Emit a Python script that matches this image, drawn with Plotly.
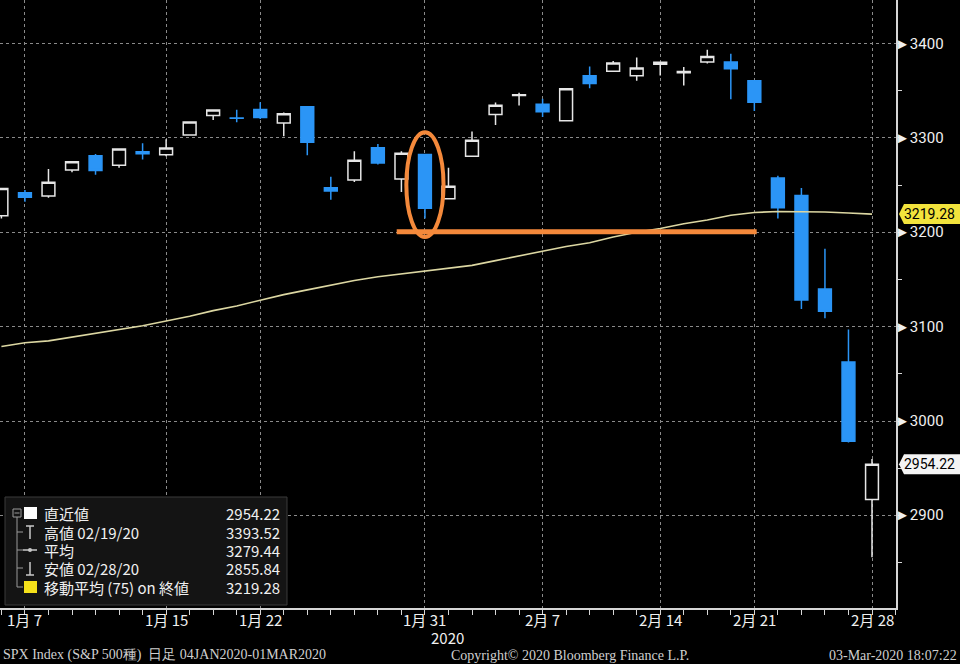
import plotly.graph_objects as go

# ---------------- data ----------------
dates = ["2020-01-06", "2020-01-07", "2020-01-08", "2020-01-09", "2020-01-10",
         "2020-01-13", "2020-01-14", "2020-01-15", "2020-01-16", "2020-01-17",
         "2020-01-21", "2020-01-22", "2020-01-23", "2020-01-24",
         "2020-01-27", "2020-01-28", "2020-01-29", "2020-01-30", "2020-01-31",
         "2020-02-03", "2020-02-04", "2020-02-05", "2020-02-06", "2020-02-07",
         "2020-02-10", "2020-02-11", "2020-02-12", "2020-02-13", "2020-02-14",
         "2020-02-18", "2020-02-19", "2020-02-20", "2020-02-21",
         "2020-02-24", "2020-02-25", "2020-02-26", "2020-02-27", "2020-02-28"]
opens = [3217.55, 3241.86, 3238.59, 3266.03, 3281.21,
         3271.13, 3285.35, 3282.27, 3302.97, 3323.66,
         3321.03, 3330.02, 3315.77, 3333.10,
         3247.16, 3255.35, 3289.46, 3256.45, 3282.33,
         3235.66, 3280.61, 3324.91, 3344.92, 3335.54,
         3318.28, 3365.87, 3370.50, 3365.90, 3378.08,
         3369.04, 3380.39, 3380.45, 3360.50,
         3257.61, 3238.94, 3139.90, 3062.54, 2916.90]
highs = [3246.84, 3244.91, 3267.07, 3275.58, 3282.99,
         3288.13, 3294.25, 3298.66, 3317.11, 3329.88,
         3329.79, 3337.77, 3326.88, 3333.18,
         3258.85, 3285.78, 3293.47, 3285.91, 3282.33,
         3268.44, 3306.92, 3337.58, 3347.96, 3341.42,
         3352.26, 3375.63, 3381.47, 3385.09, 3380.69,
         3375.01, 3393.52, 3389.15, 3360.76,
         3259.81, 3246.99, 3182.51, 3097.07, 2959.72]
lows = [3214.64, 3232.43, 3236.67, 3263.67, 3260.86,
        3268.43, 3277.19, 3280.69, 3302.82, 3318.86,
        3316.61, 3320.04, 3301.87, 3281.53,
        3234.50, 3253.22, 3271.89, 3242.80, 3214.68,
        3235.66, 3280.61, 3313.75, 3334.39, 3322.12,
        3317.77, 3352.72, 3369.72, 3360.52, 3366.15,
        3355.61, 3378.83, 3341.02, 3328.45,
        3214.65, 3118.77, 3108.99, 2977.39, 2855.84]
closes = [3246.28, 3237.18, 3253.05, 3274.70, 3265.35,
          3288.13, 3283.15, 3289.29, 3316.81, 3329.62,
          3320.79, 3321.75, 3325.54, 3295.47,
          3243.63, 3276.24, 3273.40, 3283.66, 3225.52,
          3248.92, 3297.59, 3334.69, 3345.78, 3327.71,
          3352.09, 3357.75, 3379.45, 3373.94, 3380.16,
          3370.29, 3386.15, 3373.23, 3337.75,
          3225.89, 3128.21, 3116.39, 2978.76, 2954.22]
ma75 = [3079, 3083, 3085, 3089, 3093, 3097, 3101, 3106, 3111, 3117,
        3122, 3128, 3134, 3139, 3144, 3149, 3153, 3156, 3159, 3162,
        3165, 3170, 3175, 3180, 3185, 3189, 3195, 3200, 3204, 3209,
        3213, 3218, 3221, 3222, 3222, 3221.5, 3220.5, 3219.28]

tick_dates = ["2020-01-07", "2020-01-15", "2020-01-22", "2020-01-31",
              "2020-02-07", "2020-02-14", "2020-02-21", "2020-02-28"]
tick_labels = ["1月 7", "1月 15", "1月 22", "1月 31",
               "2月 7", "2月 14", "2月 21", "2月 28"]
y_ticks = [2900, 3000, 3100, 3200, 3300, 3400]

legend_labels = ["直近値", "高値 02/19/20", "平均", "安値 02/28/20", "移動平均 (75) on 終値"]
legend_values = ["2954.22", "3393.52", "3279.44", "2855.84", "3219.28"]

last_close = 2954.22
last_ma = 3219.28

# highlight annotation (orange): ellipse around 1月31 candle, support line
hl_date = "2020-01-31"
hl_ellipse_y = [3195, 3306]
hl_line_level = 3200.6
hl_line_span = [16.8, 32.1]

footer_left = "SPX Index (S&P 500種)  日足 04JAN2020-01MAR2020"
footer_mid = "Copyright© 2020 Bloomberg Finance L.P."
footer_right = "03-Mar-2020 18:07:22"

# ---------------- figure ----------------
x = list(range(len(dates)))
tickvals = [dates.index(d) for d in tick_dates]
X_RANGE = [-0.06, 38.02]

PLOT_W, PLOT_H = 896, 608


def px(xp):
    return xp / PLOT_W


def py(yp):
    return 1 - yp / PLOT_H


WHITE = "#e6e6e6"
BLUE = "#2b95f6"
ORANGE = "#f4893b"
CJK = "Noto Sans CJK JP"
TXT = "#f0f0f0"

fig = go.Figure()
fig.add_trace(go.Candlestick(
    x=x, open=opens, high=highs, low=lows, close=closes,
    increasing=dict(line=dict(color=WHITE, width=1.5), fillcolor="#000000"),
    decreasing=dict(line=dict(color=BLUE, width=1.5), fillcolor=BLUE),
    whiskerwidth=0, hoverinfo="skip", showlegend=False,
))
fig.add_trace(go.Scatter(
    x=x, y=ma75, mode="lines", line=dict(color="#dcd7a2", width=1.6),
    hoverinfo="skip", showlegend=False,
))

shapes = []
annotations = []

# orange highlight
hi = dates.index(hl_date)
shapes.append(dict(type="circle", xref="x", yref="y",
                   x0=hi - 0.79, x1=hi + 0.79, y0=hl_ellipse_y[0], y1=hl_ellipse_y[1],
                   line=dict(color=ORANGE, width=4)))
shapes.append(dict(type="line", xref="x", yref="y",
                   x0=hl_line_span[0], x1=hl_line_span[1], y0=hl_line_level, y1=hl_line_level,
                   line=dict(color=ORANGE, width=5)))

# y tick labels with pointer triangles (right of the axis)
for v in y_ticks:
    annotations.append(dict(xref="paper", yref="y", x=1, y=v, xshift=-3,
                            xanchor="left", yanchor="middle", showarrow=False,
                            text="►" + str(v), font=dict(family="Roboto", size=15, color=TXT)))

# price flags on right axis
for val, bg in [(last_ma, "#f2e33c"), (last_close, "#f4f4f4")]:
    shapes.append(dict(type="path", xref="paper", yref="y",
                       xsizemode="pixel", ysizemode="pixel", xanchor=1, yanchor=val,
                       path="M 3,0 L 8,-10 L 70,-10 L 70,10 L 8,10 Z",
                       fillcolor=bg, line=dict(width=0)))
    annotations.append(dict(xref="paper", yref="y", x=1, y=val, xshift=6,
                            xanchor="left", yanchor="middle", showarrow=False,
                            text=f"{val:.2f}", font=dict(family="Roboto", size=14, color="#000")))

# x tick labels as text under the axis
for tv, tl in zip(tickvals, tick_labels):
    annotations.append(dict(xref="x", yref="paper", x=tv, y=py(619),
                            xanchor="center", yanchor="middle", showarrow=False,
                            text=tl, font=dict(family=CJK, size=15, color=TXT)))

# legend box
shapes.append(dict(type="rect", xref="paper", yref="paper",
                   x0=px(5), x1=px(287), y0=py(605), y1=py(497),
                   fillcolor="#141414", line=dict(color="#3a3a3a", width=1)))
row_y = [513, 532, 550, 568, 587]
GRAY = "#9a9a9a"
shapes.append(dict(type="line", xref="paper", yref="paper",
                   x0=px(17), x1=px(17), y0=py(517), y1=py(587), line=dict(color=GRAY, width=1)))
shapes.append(dict(type="rect", xref="paper", yref="paper",
                   x0=px(13), x1=px(21), y0=py(517), y1=py(509), line=dict(color=GRAY, width=1)))
shapes.append(dict(type="line", xref="paper", yref="paper",
                   x0=px(14.5), x1=px(19.5), y0=py(513), y1=py(513), line=dict(color=GRAY, width=1)))
for ry in row_y[1:]:
    shapes.append(dict(type="line", xref="paper", yref="paper",
                       x0=px(17), x1=px(23), y0=py(ry), y1=py(ry), line=dict(color=GRAY, width=1)))
shapes.append(dict(type="rect", xref="paper", yref="paper",
                   x0=px(24), x1=px(37), y0=py(519), y1=py(507), fillcolor="#ffffff", line=dict(width=0)))
shapes.append(dict(type="rect", xref="paper", yref="paper",
                   x0=px(24), x1=px(37), y0=py(593), y1=py(581), fillcolor="#f5e11a", line=dict(width=0)))
ICON = "#c8c8c8"
shapes.append(dict(type="line", xref="paper", yref="paper",
                   x0=px(26), x1=px(34), y0=py(526), y1=py(526), line=dict(color=ICON, width=1.5)))
shapes.append(dict(type="line", xref="paper", yref="paper",
                   x0=px(30), x1=px(30), y0=py(526), y1=py(539), line=dict(color=ICON, width=1.5)))
shapes.append(dict(type="line", xref="paper", yref="paper",
                   x0=px(23), x1=px(37), y0=py(550), y1=py(550), line=dict(color=ICON, width=1.5)))
shapes.append(dict(type="circle", xref="paper", yref="paper",
                   x0=px(28), x1=px(32), y0=py(552), y1=py(548), fillcolor=ICON, line=dict(width=0)))
shapes.append(dict(type="line", xref="paper", yref="paper",
                   x0=px(30), x1=px(30), y0=py(562), y1=py(575), line=dict(color=ICON, width=1.5)))
shapes.append(dict(type="line", xref="paper", yref="paper",
                   x0=px(26), x1=px(34), y0=py(575), y1=py(575), line=dict(color=ICON, width=1.5)))

for lab, val, ry in zip(legend_labels, legend_values, row_y):
    annotations.append(dict(xref="paper", yref="paper", x=px(42), y=py(ry),
                            xanchor="left", yanchor="middle", showarrow=False,
                            text=lab, font=dict(family=CJK, size=15, color=TXT)))
    annotations.append(dict(xref="paper", yref="paper", x=px(282), y=py(ry),
                            xanchor="right", yanchor="middle", showarrow=False,
                            text=val, font=dict(family=CJK, size=15, color=TXT)))

# year label & footer
annotations.append(dict(xref="x", yref="paper", x=hi + 0.95, y=py(637),
                        xanchor="center", yanchor="middle", showarrow=False,
                        text="2020", font=dict(family=CJK, size=15, color=TXT)))
FOOT = dict(family="Liberation Serif", size=14, color="#cfcfcf")
annotations.append(dict(xref="paper", yref="paper", x=px(1), y=py(655), xanchor="left",
                        yanchor="middle", showarrow=False, text=footer_left, font=FOOT))
annotations.append(dict(xref="paper", yref="paper", x=px(570), y=py(655), xanchor="center",
                        yanchor="middle", showarrow=False, text=footer_mid, font=FOOT))
annotations.append(dict(xref="paper", yref="paper", x=px(959), y=py(655), xanchor="right",
                        yanchor="middle", showarrow=False, text=footer_right, font=FOOT))

fig.update_layout(
    width=960, height=664,
    margin=dict(l=0, r=64, t=0, b=56),
    paper_bgcolor="#000000", plot_bgcolor="#000000",
    showlegend=False, boxgap=0.22,
    shapes=shapes, annotations=annotations,
    xaxis=dict(
        range=X_RANGE, tickmode="array", tickvals=tickvals, ticktext=tick_labels,
        showticklabels=False,
        showgrid=True, gridcolor="#8a8a8a", griddash="dot", gridwidth=1,
        showline=True, linecolor="#d6d6d6", linewidth=2,
        ticks="outside", ticklen=5, tickcolor="#d6d6d6",
        minor=dict(dtick=1, tick0=0, ticks="outside", ticklen=5, tickcolor="#d6d6d6", showgrid=False),
        zeroline=False, rangeslider=dict(visible=False), fixedrange=True,
    ),
    yaxis=dict(
        side="right", range=[2802, 3446.1], tickmode="array", tickvals=y_ticks,
        showticklabels=False,
        showgrid=True, gridcolor="#8a8a8a", griddash="dot", gridwidth=1,
        showline=True, linecolor="#d6d6d6", linewidth=2,
        ticks="",
        minor=dict(dtick=50, tick0=0, ticks="outside", ticklen=4, tickcolor="#d6d6d6", showgrid=False),
        zeroline=False, fixedrange=True,
    ),
)

fig.write_html("out.html", config=dict(displayModeBar=False),
               post_script="document.body.style.margin='0';document.body.style.background='#000';")
